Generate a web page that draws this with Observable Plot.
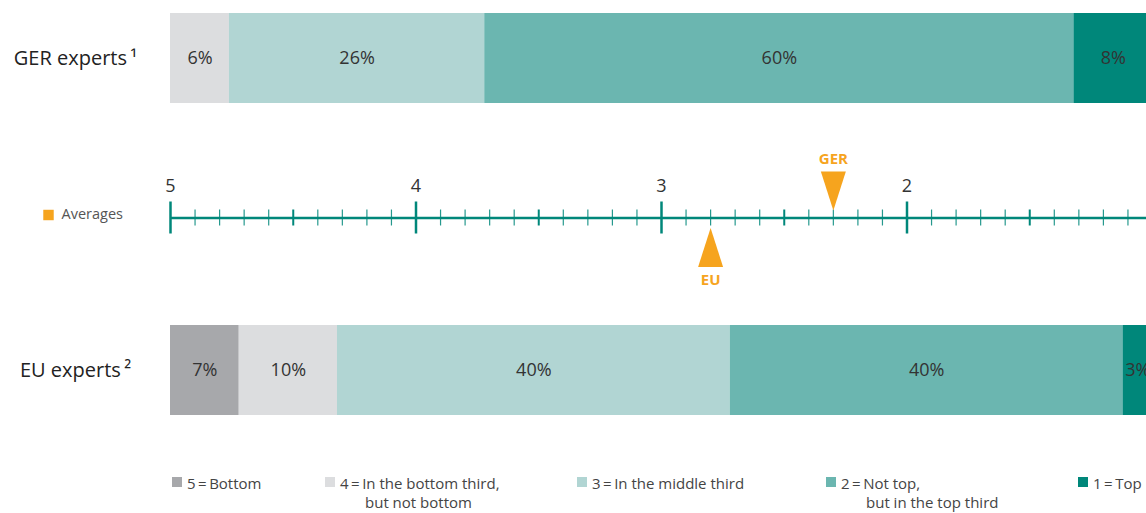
<!DOCTYPE html>
<html>
<head>
<meta charset="utf-8">
<script src="https://cdn.jsdelivr.net/npm/d3@7"></script>
<script src="https://cdn.jsdelivr.net/npm/@observablehq/plot@0.6"></script>
<style>
  html, body { margin: 0; padding: 0; background: #fff; overflow: hidden; }
  body { font-family: "Open Sans", sans-serif; width: 1146px; }
  #chart svg { display: block; overflow: hidden; }
  #legend { position: relative; width: 1146px; height: 43px; font-size: 15px; color: #444; line-height: 19px; }
  .item { position: absolute; top: 7px; }
  .sw { position: absolute; left: 0; top: 0; width: 10px; height: 10px; }
  .tx { position: absolute; left: 15px; top: -3px; white-space: nowrap; }
  .tx .l2 { padding-left: 25px; }
</style>
</head>
<body>
<div id="chart"></div>
<div id="legend"></div>
<script>
// ---- data ----
const rows = ["GER experts", "Averages", "EU experts"];
const rowLabels = ["GER experts\u2009¹", "", "EU experts\u2009²"];
const categories = ["5", "4", "3", "2", "1"];
const categoryLabels = [
  ["5\u2009=\u2009Bottom"],
  ["4\u2009=\u2009In the bottom third,", "but not bottom"],
  ["3\u2009=\u2009In the middle third"],
  ["2\u2009=\u2009Not top,", "but in the top third"],
  ["1\u2009=\u2009Top"]
];
const colors = ["#a7a8ab", "#dcdddf", "#b1d5d3", "#6bb6b0", "#00877a"];
const gerValues = [0, 6, 26, 60, 8];
const euValues = [7, 10, 40, 40, 3];
const averageGroups = ["GER", "EU"];
const averageValues = [2.3, 2.8];
const scaleLabels = [5, 4, 3, 2];
const legendLeft = [172, 325, 577, 826, 1078];

const orange = "#f6a41e";
const teal = "#00877a";

// ---- tables built from arrays ----
const barData = [];
categories.forEach((c, i) => barData.push({row: rows[0], cat: c, value: gerValues[i]}));
categories.forEach((c, i) => barData.push({row: rows[2], cat: c, value: euValues[i]}));
const labelData = barData.filter(d => d.value > 0);
const averages = averageGroups.map((g, i) => ({group: g, value: averageValues[i]}));
const rowLabelData = rows.map((r, i) => ({row: r, label: rowLabels[i]})).filter(d => d.label);

// score (5 .. 1) onto the shared 0..100 horizontal scale
const toPct = v => (5 - v) * 25;
const ticks = d3.range(10, 51).map(i => i / 10);
const majorTicks = ticks.filter(t => Math.abs(t - Math.round(t)) < 1e-9);
const midTicks = ticks.filter(t => Math.abs(t - Math.floor(t) - 0.5) < 1e-9);
const minorTicks = ticks.filter(t => !majorTicks.includes(t) && !midTicks.includes(t));

const triDown = {draw(ctx) { ctx.moveTo(-12.5, -39); ctx.lineTo(12.5, -39); ctx.lineTo(0, 0); ctx.closePath(); }};
const triUp = {draw(ctx) { ctx.moveTo(-12.5, 39); ctx.lineTo(12.5, 39); ctx.lineTo(0, 0); ctx.closePath(); }};

const AV = () => "Averages";
const axisDy = 3.5;

const chart = Plot.plot({
  width: 1146,
  height: 470,
  marginTop: 0, marginRight: 0, marginBottom: 0, marginLeft: 0,
  x: {domain: [0, 100], range: [170, 1152], axis: null},
  y: {domain: rows, range: [13, 415], paddingInner: 0.4231, paddingOuter: 0, round: false, axis: null},
  color: {domain: categories, range: colors},
  style: {fontFamily: "Open Sans, sans-serif", background: "white", overflow: "hidden"},
  marks: [
    Plot.barX(barData, {x: "value", y: "row", fill: "cat"}),
    Plot.text(labelData, Plot.stackX({x: "value", y: "row", text: d => d.value + "%", fill: "#333", fontSize: 18})),
    // scale line
    Plot.ruleY([{from: 5, to: 1}], {y: AV, x1: d => toPct(d.from), x2: d => toPct(d.to), stroke: teal, strokeWidth: 2.5, dy: axisDy}),
    Plot.tickX(minorTicks, {x: d => toPct(d), y: AV, stroke: teal, strokeWidth: 1.2, strokeOpacity: 0.85, insetTop: 37, insetBottom: 37, dy: axisDy}),
    Plot.tickX(midTicks, {x: d => toPct(d), y: AV, stroke: teal, strokeWidth: 2, insetTop: 37, insetBottom: 37, dy: axisDy}),
    Plot.tickX(majorTicks, {x: d => toPct(d), y: AV, stroke: teal, strokeWidth: 2.5, insetTop: 29, insetBottom: 29, dy: axisDy}),
    Plot.text(scaleLabels, {x: d => toPct(d), y: AV, text: d => String(d), dy: -28, fontSize: 18, fill: "#333"}),
    // averages
    Plot.dot(averages.filter(d => d.group === "GER"), {x: d => toPct(d.value), y: AV, symbol: triDown, fill: orange, dy: -4}),
    Plot.dot(averages.filter(d => d.group === "EU"), {x: d => toPct(d.value), y: AV, symbol: triUp, fill: orange, dy: 13.5}),
    Plot.text(averages.filter(d => d.group === "GER"), {x: d => toPct(d.value), y: AV, text: "group", dy: -55, fontSize: 15, fontWeight: "bold", fill: orange}),
    Plot.text(averages.filter(d => d.group === "EU"), {x: d => toPct(d.value), y: AV, text: "group", dy: 66, fontSize: 15, fontWeight: "bold", fill: orange}),
    // row labels
    Plot.text(rowLabelData, {y: "row", text: "label", frameAnchor: "left", dx: 75, textAnchor: "middle", fontSize: 20, fill: "#222"}),
    // averages key
    Plot.dot(["Averages"], {y: d => d, frameAnchor: "left", dx: 48, symbol: "square", r: 5.9, fill: orange, dy: 0.5}),
    Plot.text(["Averages"], {y: d => d, text: d => d, frameAnchor: "left", dx: 61, textAnchor: "start", fontSize: 14.5, fill: "#555"})
  ]
});
document.getElementById("chart").appendChild(chart);

// legend
const legend = document.getElementById("legend");
categories.forEach((c, i) => {
  const item = document.createElement("div");
  item.className = "item";
  item.style.left = legendLeft[i] + "px";
  const sw = document.createElement("div");
  sw.className = "sw";
  sw.style.background = colors[i];
  const tx = document.createElement("div");
  tx.className = "tx";
  categoryLabels[i].forEach((line, j) => {
    const l = document.createElement("div");
    if (j > 0) l.className = "l2";
    l.textContent = line;
    tx.appendChild(l);
  });
  item.appendChild(sw);
  item.appendChild(tx);
  legend.appendChild(item);
});
</script>
</body>
</html>
